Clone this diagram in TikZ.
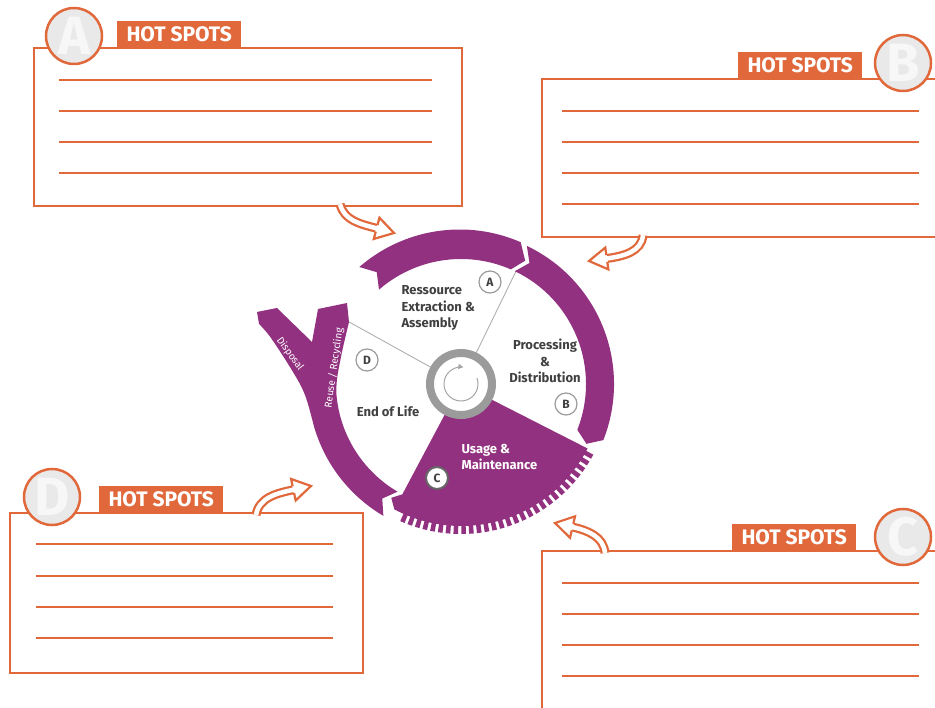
\documentclass[tikz,border=0pt]{standalone}
\usepackage{fontspec}
\setmainfont{Fira Sans}
\usetikzlibrary{arrows.meta}

\definecolor{hot}{RGB}{224,104,58}
\definecolor{ring}{RGB}{146,49,128}
\definecolor{hub}{RGB}{155,155,155}
\definecolor{ink}{RGB}{64,64,64}
\definecolor{badge}{RGB}{233,233,233}

\tikzset{
  hotbox/.style={draw=hot, line width=2.2pt, fill=white},
  hotline/.style={draw=hot, line width=1.3pt},
  hottab/.style={fill=hot, text=white, font=\fontsize{21}{21}\selectfont\bfseries,
    minimum width=124pt, minimum height=26pt, inner sep=0pt, anchor=south west},
  badgecirc/.style={circle, draw=hot, line width=2.5pt, fill=badge, minimum size=56pt,
    inner sep=0pt, text=white!97!black, font=\fontsize{54}{54}\selectfont\bfseries},
  phase/.style={text=ink, font=\fontsize{13}{16.5}\selectfont\bfseries},
  tag/.style={circle, draw=hub, line width=1.2pt, fill=white, minimum size=22pt,
    inner sep=0pt, text=ink, font=\fontsize{12}{12}\selectfont\bfseries},
  divider/.style={draw=hub!80, line width=0.9pt},
  branch/.style={text=white, inner sep=0pt, font=\fontsize{10}{10}\selectfont}
}

\newcommand{\hotarrow}[4]{%
  \pgfmathsetmacro{\inang}{#4+180}
  \path (#3) ++(\inang:18) coordinate (shaftend);
  \draw[hot, line width=9pt] (#1) to[out=#2, in=\inang] (shaftend);
  \draw[white, line width=4.5pt] (#1) to[out=#2, in=\inang] (shaftend);
  \begin{scope}[shift={(#3)}, rotate=#4]
    \fill[white] (-18.5,-11.5) -- (0,0) -- (-18.5,11.5) -- cycle;
    \draw[hot, line width=2.2pt, miter limit=20] (-18,3.4) -- (-18,11) -- (0,0) -- (-18,-11) -- (-18,-3.4);
  \end{scope}}

\begin{document}
\begin{tikzpicture}[x=1pt, y=1pt]
\useasboundingbox (0,0) rectangle (935,-708);
\clip (0,0) rectangle (935,-708);

\node[hotbox, minimum width=428pt, minimum height=158pt, anchor=north west] (boxA) at (33,-47) {};
\node[hotbox, minimum width=430pt, minimum height=158pt, anchor=north west] (boxB) at (541,-78) {};
\node[hotbox, minimum width=430pt, minimum height=170pt, anchor=north west] (boxC) at (541,-550) {};
\node[hotbox, minimum width=353pt, minimum height=160pt, anchor=north west] (boxD) at (9,-512) {};

\foreach \y in {80,111,142,173} \draw[hotline] (59,-\y) -- (432,-\y);
\foreach \y in {111,142,173,204} \draw[hotline] (562,-\y) -- (919,-\y);
\foreach \y in {583,614,645,676} \draw[hotline] (562,-\y) -- (919,-\y);
\foreach \y in {544,576,607,638} \draw[hotline] (36,-\y) -- (333,-\y);

\node[hottab] (tabA) at (117,-47) {HOT SPOTS};
\node[hottab] (tabB) at (738,-78) {HOT SPOTS};
\node[hottab] (tabC) at (732,-550) {HOT SPOTS};
\node[hottab] (tabD) at (99,-512) {HOT SPOTS};

\node[badgecirc] (badgeA) at (74,-36) {A};
\node[badgecirc] (badgeB) at (903,-63) {B};
\node[badgecirc] (badgeC) at (903,-537) {C};
\node[badgecirc] (badgeD) at (52,-497) {D};

\coordinate (fromA) at ([xshift=307pt, yshift=3pt]boxA.south west);
\coordinate (fromB) at ([xshift=102pt, yshift=3pt]boxB.south west);
\coordinate (fromC) at ([xshift=64pt, yshift=-3pt]boxC.north west);
\coordinate (fromD) at ([xshift=247pt, yshift=-3pt]boxD.north west);
\coordinate (tipA) at (394,-233);
\coordinate (tipB) at (589,-261);
\coordinate (tipC) at (555,-523);
\coordinate (tipD) at (311,-486);
\hotarrow{fromA}{-75}{tipA}{-15}
\hotarrow{fromB}{-95}{tipB}{188}
\hotarrow{fromC}{95}{tipC}{167}
\hotarrow{fromD}{80}{tipD}{12}

\begin{scope}[shift={(461,-384)}]
  \draw[divider] (64:33) -- (64:126);
  \draw[divider] (151:33) -- (151:128);

  \fill[ring] (333:33) -- (333:142) arc[start angle=333, end angle=242, radius=142]
    -- (238.5:133.5) -- (242:125) -- (242:33) arc[start angle=242, end angle=333, radius=33] -- cycle;
  \foreach \a in {331,328,...,245}
    \fill[ring] ({\a-0.9}:139) -- ({\a-0.9}:150) -- ({\a+0.9}:150) -- ({\a+0.9}:139) -- cycle;

  \fill[ring] (131:155) arc[start angle=131, end angle=66.5, radius=153] -- (62.5:139)
    -- (66.5:125) arc[start angle=66.5, end angle=131, radius=125] -- (127:140) -- cycle;
  \fill[ring] (64.5:153) arc[start angle=64.5, end angle=-21.5, radius=153] -- (-25.5:139)
    -- (-21.5:125) arc[start angle=-21.5, end angle=64.5, radius=125] -- (60.5:139) -- cycle;
  \fill[ring] (239.5:153) arc[start angle=239.5, end angle=195, radius=153]
    -- plot[smooth, tension=0.6] coordinates {(195:153) (-156,-11) (-168,12) (-190,46) (-202,60)}
    -- (-204,72) -- (-184,76) -- (-149,42) -- (-143,75) -- (-114,81) -- (-112,62)
    -- plot[smooth, tension=0.6] coordinates {(-112,62) (-119,32) (-124,5) (185:125)}
    arc[start angle=185, end angle=239.5, radius=125] -- (235.5:139) -- cycle;

  \draw[hub, line width=8pt] (0,0) circle (31);
  \draw[hub!90, line width=1pt, -{Triangle[length=5pt, width=5pt]}] (20:17) arc[start angle=20, end angle=-278, radius=17];

  \node[phase, align=left, anchor=west] (phaseA) at (-63,76) {Ressource\\Extraction \&\\Assembly};
  \node[phase, align=center] (phaseB) at (84,23) {Processing\\\&\\Distribution};
  \node[phase, text=white, align=left, anchor=west] (phaseC) at (-3,-73) {Usage \&\\Maintenance};
  \node[phase] (phaseD) at (-73,-27) {End of Life};

  \node[tag] (tagA) at (29,102) {A};
  \node[tag] (tagB) at (105,-20) {B};
  \node[tag, draw=ink!80, line width=2pt] (tagC) at (-24,-94) {C};
  \node[tag] (tagD) at (-94,24) {D};

  \node[branch, rotate=-54] (lblDisp) at (-171,30) {Disposal};
  \node[branch, rotate=82] (lblReuse) at (-127,16) {Reuse / Recycling};
\end{scope}
\end{tikzpicture}
\end{document}
